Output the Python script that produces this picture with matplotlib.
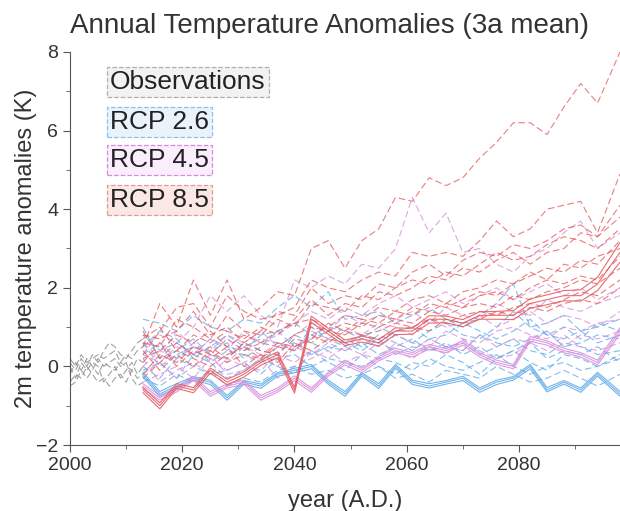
import matplotlib
matplotlib.use("Agg")
import matplotlib.pyplot as plt
from matplotlib.ticker import MultipleLocator

plt.rcParams['font.family'] = ['Liberation Sans', 'DejaVu Sans']

# observations 2000-2013 (annual)
obs_years = list(range(2000, 2014))
obs_runs = [
    [0.1, -0.1, 0.2, 0.0, 0.3, 0.1, 0.4, 0.6, 0.5, 0.3, 0.2, 0.4, 0.6, 0.7],
    [-0.2, 0.1, -0.1, 0.2, 0.0, -0.2, 0.1, 0.0, -0.1, 0.1, 0.0, -0.1, 0.2, 0.1],
    [-0.4, -0.2, -0.3, 0.0, -0.2, -0.4, -0.3, -0.5, -0.3, -0.2, -0.4, -0.1, -0.3, -0.2],
    [0.0, -0.3, 0.1, -0.1, 0.1, 0.0, -0.4, -0.2, 0.0, -0.3, -0.1, 0.1, -0.2, 0.0],
    [-0.5, -0.4, -0.1, -0.3, -0.1, 0.2, 0.0, 0.1, 0.2, 0.0, 0.1, -0.3, -0.5, -0.4],
    [0.2, 0.0, 0.3, 0.1, 0.2, 0.3, 0.2, 0.3, 0.4, 0.1, 0.3, 0.2, 0.4, 0.5],
]

# scenario years (3a means)
years = [2013, 2016, 2019, 2022, 2025, 2028, 2031, 2034, 2037, 2040,
         2043, 2046, 2049, 2052, 2055, 2058, 2061, 2064, 2067, 2070,
         2073, 2076, 2079, 2082, 2085, 2088, 2091, 2094, 2098]

rcp26_dashed = [
    [1.2, 1.1, 0.9, 1.3, 1.0, 0.9, 1.2, 1.1, 1.5, 1.8, 1.5, 1.9, 1.2, 1.3, 1.4, 1.1, 1.3, 1.5, 1.2, 1.0, 1.3, 1.6, 2.1, 1.0, 1.1, 1.3, 0.9, 1.0, 1.2],
    [0.8, 0.4, 0.6, 0.3, 0.7, 0.5, 0.4, 0.8, 0.9, 1.1, 0.8, 1.0, 0.9, 0.7, 1.0, 0.8, 0.6, 0.9, 1.1, 0.8, 0.7, 1.0, 1.4, 1.0, 0.8, 0.7, 0.9, 0.6, 0.8],
    [0.3, 0.6, 0.2, 0.5, 0.1, 0.4, 0.3, 0.1, 0.5, 0.6, 0.3, 0.5, 0.4, 0.6, 0.3, 0.5, 0.7, 0.4, 0.5, 0.6, 0.3, 0.5, 0.7, 0.4, 0.3, 0.6, 0.5, 0.3, 0.4],
    [0.0, -0.3, 0.2, 0.0, -0.2, -0.1, 0.1, -0.2, 0.2, 0.3, 0.0, 0.2, 0.1, 0.0, 0.2, 0.1, -0.1, 0.2, 0.0, -0.1, 0.1, 0.3, 0.0, -0.2, 0.0, 0.1, -0.1, 0.0, 0.2],
    [-0.3, -0.5, -0.2, -0.4, -0.1, -0.5, -0.3, -0.4, -0.1, 0.0, -0.2, -0.1, -0.3, -0.2, 0.0, -0.3, -0.2, -0.4, -0.1, -0.2, -0.3, 0.0, -0.2, -0.4, -0.3, -0.1, -0.3, -0.5, -0.2],
    [1.0, 0.2, 0.4, 0.7, 0.3, 0.2, 0.6, 0.4, 0.3, 0.8, 0.6, 0.4, 0.7, 0.5, 0.8, 0.6, 0.4, 0.7, 0.5, 0.4, 0.8, 0.6, 0.5, 0.7, 0.9, 0.5, 0.6, 0.8, 0.7],
    [0.5, 0.9, 0.7, 0.2, 0.5, 0.8, 0.5, 0.7, 0.6, 0.4, 1.0, 0.7, 0.5, 0.8, 0.6, 0.9, 1.0, 0.7, 0.8, 1.1, 0.9, 0.7, 0.9, 1.2, 0.8, 1.0, 0.7, 1.1, 0.9],
    [-0.1, 0.1, -0.3, 0.3, 0.1, -0.3, -0.1, 0.2, 0.0, -0.2, 0.4, 0.1, -0.1, 0.3, 0.0, -0.2, 0.1, 0.0, 0.3, 0.1, -0.2, 0.2, 0.4, 0.1, -0.1, 0.3, 0.2, 0.0, 0.3],
    [0.6, 0.0, 0.3, 0.5, 0.4, 0.6, 0.2, 0.5, 0.9, 0.5, 0.7, 0.9, 0.6, 0.4, 0.7, 0.3, 0.5, 0.4, 0.6, 0.3, 0.5, 0.2, 0.4, 0.6, 0.2, 0.4, 0.3, 0.5, 0.1],
]
rcp26_solid = [
    [-0.2, -0.7, -0.5, -0.3, -0.4, -0.8, -0.4, -0.5, -0.2, -0.1, 0.0, -0.4, -0.7, -0.2, -0.5, 0.0, -0.4, -0.5, -0.4, -0.3, -0.6, -0.4, -0.3, 0.0, -0.6, -0.4, -0.6, -0.2, -0.7],
    [-0.15, -0.64, -0.44, -0.26, -0.35, -0.74, -0.36, -0.45, -0.16, -0.05, 0.05, -0.35, -0.64, -0.16, -0.44, 0.05, -0.35, -0.44, -0.36, -0.25, -0.55, -0.35, -0.26, 0.05, -0.54, -0.36, -0.55, -0.15, -0.64],
    [-0.26, -0.76, -0.55, -0.35, -0.46, -0.86, -0.45, -0.56, -0.25, -0.16, -0.06, -0.45, -0.76, -0.25, -0.56, -0.05, -0.46, -0.55, -0.45, -0.36, -0.66, -0.46, -0.35, -0.06, -0.65, -0.45, -0.66, -0.25, -0.76],
]

rcp45_dashed = [
    [0.5, 0.8, 0.6, 1.0, 1.8, 1.4, 1.8, 1.3, 1.0, 2.2, 2.0, 2.3, 2.1, 2.6, 2.5, 3.0, 4.3, 3.4, 3.9, 2.9, 3.0, 2.6, 2.4, 2.8, 3.0, 3.4, 3.7, 3.0, 3.4],
    [0.3, 0.1, 0.5, 0.3, 0.7, 0.4, 0.9, 0.6, 0.8, 1.1, 1.4, 1.2, 1.5, 1.3, 1.6, 1.8, 1.5, 1.7, 1.9, 1.6, 1.8, 2.0, 1.7, 1.9, 2.1, 1.8, 2.0, 1.7, 2.0],
    [0.0, 0.4, 0.2, 0.6, 0.3, 0.1, 0.5, 0.3, 0.6, 0.4, 0.9, 0.7, 1.0, 0.8, 1.1, 1.0, 0.8, 1.2, 1.0, 1.1, 1.3, 1.0, 1.2, 1.4, 1.1, 1.3, 1.2, 1.0, 1.4],
    [-0.4, -0.2, 0.0, -0.3, 0.2, -0.1, 0.1, 0.3, 0.0, 0.5, 0.3, 0.6, 0.4, 0.7, 0.5, 0.8, 0.6, 0.5, 0.9, 0.7, 0.6, 0.9, 1.0, 0.8, 0.7, 1.0, 0.9, 1.1, 1.2],
    [0.2, -0.4, -0.1, 0.1, -0.2, 0.2, 0.0, -0.1, 0.3, 0.1, 0.4, 0.2, 0.5, 0.3, 0.2, 0.6, 0.4, 0.7, 0.5, 0.4, 0.8, 0.5, 0.7, 0.6, 0.9, 0.5, 0.8, 0.7, 0.9],
    [0.6, 0.2, 0.9, 0.5, 0.4, 0.8, 0.6, 0.9, 0.5, 0.8, 1.1, 0.9, 1.3, 1.1, 1.3, 1.2, 1.4, 1.1, 1.5, 1.3, 1.2, 1.6, 1.4, 1.3, 1.7, 1.5, 1.4, 1.6, 1.8],
    [-0.2, 0.1, -0.3, 0.0, 0.3, -0.2, -0.1, 0.2, -0.3, 0.0, 0.2, 0.4, 0.1, 0.3, 0.6, 0.4, 0.2, 0.5, 0.3, 0.7, 0.4, 0.2, 0.3, 0.6, 0.4, 0.8, 0.5, 0.4, 0.6],
]
rcp45_solid = [
    [-0.5, -0.8, -0.6, -0.3, -0.7, -0.5, -0.4, -0.8, -0.6, -0.3, -0.6, -0.2, 0.1, -0.1, 0.2, 0.4, 0.3, 0.5, 0.4, 0.6, 0.3, 0.1, 0.0, 0.7, 0.6, 0.4, 0.3, 0.1, 0.9],
    [-0.44, -0.74, -0.55, -0.25, -0.64, -0.45, -0.35, -0.74, -0.55, -0.24, -0.55, -0.15, 0.16, -0.05, 0.25, 0.46, 0.35, 0.56, 0.45, 0.66, 0.35, 0.16, 0.05, 0.76, 0.65, 0.46, 0.35, 0.16, 0.98],
    [-0.56, -0.86, -0.65, -0.36, -0.76, -0.55, -0.46, -0.86, -0.65, -0.36, -0.66, -0.25, 0.04, -0.16, 0.14, 0.35, 0.24, 0.44, 0.35, 0.54, 0.24, 0.05, -0.06, 0.64, 0.54, 0.35, 0.24, 0.04, 0.82],
]

rcp85_dashed = [
    [0.5, 1.6, 1.0, 2.2, 1.3, 2.2, 1.2, 1.5, 1.9, 1.8, 3.0, 3.2, 2.5, 3.2, 3.5, 4.3, 4.2, 4.8, 4.6, 4.8, 5.3, 5.7, 6.2, 6.2, 5.9, 6.6, 7.2, 6.7, 8.0],
    [0.3, 0.9, 1.5, 1.6, 1.0, 1.8, 1.4, 1.2, 1.3, 1.5, 2.2, 2.0, 1.9, 2.2, 2.4, 2.3, 2.9, 2.8, 2.9, 2.8, 3.2, 3.7, 3.3, 3.5, 4.0, 4.1, 4.2, 3.4, 4.9],
    [0.6, 0.5, 1.2, 1.0, 0.7, 1.3, 0.9, 0.8, 1.2, 1.0, 1.6, 1.5, 1.4, 1.8, 1.7, 2.0, 2.2, 2.1, 2.4, 2.3, 2.6, 2.9, 2.7, 2.8, 3.1, 3.3, 3.2, 3.0, 3.5],
    [0.2, 0.4, 0.8, 0.6, 0.9, 0.5, 0.8, 0.6, 0.9, 1.1, 1.2, 1.0, 1.3, 1.2, 1.5, 1.4, 1.7, 1.8, 1.6, 1.9, 2.0, 2.2, 2.1, 2.3, 2.5, 2.4, 2.7, 2.6, 3.2],
    [-0.2, 0.3, 0.1, 0.5, 0.3, 0.7, 0.4, 0.6, 0.5, 0.8, 1.0, 0.9, 1.1, 1.0, 1.3, 1.2, 1.5, 1.4, 1.6, 1.5, 1.8, 1.9, 1.7, 2.0, 2.2, 2.1, 2.3, 2.2, 2.8],
    [0.9, 0.2, 0.6, 0.3, 0.5, 0.2, 0.6, 0.4, 0.3, 0.7, 0.6, 0.9, 0.8, 1.1, 1.0, 1.2, 1.1, 1.4, 1.3, 1.5, 1.6, 1.5, 1.8, 1.7, 1.9, 2.0, 2.2, 2.1, 2.5],
    [0.4, -0.1, 0.3, 0.0, 0.4, 0.1, 0.3, 0.2, 0.5, 0.4, 0.8, 0.6, 0.9, 0.8, 0.9, 1.1, 1.0, 1.2, 1.1, 1.3, 1.4, 1.3, 1.5, 1.6, 1.5, 1.7, 1.9, 1.8, 2.2],
    [0.1, 0.6, 0.0, 0.4, 0.2, 0.5, 0.0, 0.3, 0.1, 0.6, 0.4, 0.7, 0.6, 0.8, 0.7, 0.9, 1.0, 0.9, 1.2, 1.1, 1.2, 1.4, 1.3, 1.5, 1.4, 1.6, 1.7, 1.6, 2.0],
    [0.7, 1.0, 0.4, 0.8, 0.6, 0.9, 0.7, 1.0, 0.8, 1.2, 1.7, 1.3, 1.6, 1.5, 1.9, 1.8, 2.0, 2.3, 2.2, 2.5, 2.4, 2.7, 2.9, 2.6, 2.9, 3.0, 3.4, 3.3, 3.8],
    [-0.3, 0.1, 0.4, 0.2, 0.0, 0.3, 0.5, 0.2, 0.6, 0.5, 0.7, 1.1, 0.9, 1.2, 1.1, 1.4, 1.3, 1.6, 1.5, 1.7, 1.9, 1.8, 2.1, 2.4, 2.2, 2.6, 2.5, 2.8, 3.0],
    [0.8, 0.7, 0.9, 1.4, 0.8, 1.0, 0.6, 0.9, 1.4, 1.3, 2.0, 1.6, 1.8, 1.7, 2.1, 2.0, 2.4, 2.6, 2.3, 2.7, 2.9, 2.8, 3.1, 3.0, 3.2, 3.5, 3.6, 3.3, 4.1],
]
rcp85_solid = [
    [-0.6, -1.0, -0.5, -0.6, -0.1, -0.4, -0.2, 0.1, 0.3, -0.6, 1.2, 0.9, 0.6, 0.7, 0.6, 0.9, 0.9, 1.2, 1.2, 1.1, 1.3, 1.3, 1.3, 1.6, 1.7, 1.8, 1.8, 2.1, 2.9],
    [-0.54, -0.93, -0.44, -0.54, -0.04, -0.33, -0.14, 0.16, 0.37, -0.53, 1.28, 0.97, 0.67, 0.77, 0.68, 0.98, 0.97, 1.29, 1.28, 1.19, 1.39, 1.4, 1.42, 1.72, 1.82, 1.93, 1.95, 2.27, 3.15],
    [-0.67, -1.08, -0.56, -0.67, -0.17, -0.47, -0.27, 0.03, 0.22, -0.68, 1.12, 0.82, 0.53, 0.62, 0.52, 0.81, 0.82, 1.1, 1.11, 1.01, 1.2, 1.2, 1.19, 1.48, 1.57, 1.67, 1.66, 1.93, 2.65],
]

labels = ['Observations', 'RCP 2.6', 'RCP 4.5', 'RCP 8.5']
line_colors = ['#8a8a8a', '#62acea', '#d890de', '#e65c60']
box_faces = ['#f2f2f2', '#eaf2fc', '#fbeefc', '#fbe8e4']
box_edges = ['#b0b0b0', '#8cc0ea', '#d68ade', '#e09a9a']

fig = plt.figure(figsize=(6.2, 5.11), dpi=100)
ax = fig.add_axes([70 / 620, 66 / 511, 550 / 620, 393 / 511])

for run in obs_runs:
    ax.plot(obs_years, run, color=line_colors[0], lw=0.8, dashes=(6, 3), alpha=0.8)

groups = [(rcp26_dashed, rcp26_solid, line_colors[1]),
          (rcp45_dashed, rcp45_solid, line_colors[2]),
          (rcp85_dashed, rcp85_solid, line_colors[3])]
for dashed, solid, c in groups:
    for run in dashed:
        ax.plot(years, run, color=c, lw=0.8, dashes=(6, 3), alpha=0.8)
for dashed, solid, c in groups:
    for run in solid:
        ax.plot(years, run, color=c, lw=0.8, alpha=0.9)

ax.set_xlim(2000, 2098)
ax.set_ylim(-2, 8)
ax.xaxis.set_major_locator(MultipleLocator(20))
ax.xaxis.set_minor_locator(MultipleLocator(10))
ax.yaxis.set_major_locator(MultipleLocator(2))
ax.yaxis.set_minor_locator(MultipleLocator(1))
for s in ['top', 'right']:
    ax.spines[s].set_visible(False)
for s in ['left', 'bottom']:
    ax.spines[s].set_color('#555555')
ax.tick_params(which='both', colors='#555555', labelcolor='#333333', labelsize=14, direction='out')
ax.tick_params(which='major', length=5)
ax.tick_params(which='minor', length=3)

fig.text(330 / 620, 1 - 33 / 511, 'Annual Temperature Anomalies (3a mean)', fontsize=20,
         color='#333333', ha='center', va='baseline')
ax.set_xlabel('year (A.D.)', fontsize=17, color='#333333', labelpad=12)
ax.set_ylabel('2m temperature anomalies (K)', fontsize=17, color='#333333', labelpad=-1)

ypos = [0.924, 0.822, 0.725, 0.623]
for lab, yy, fc, ec in zip(labels, ypos, box_faces, box_edges):
    ax.text(0.073, yy, lab, transform=ax.transAxes, fontsize=19, color='#222222',
            va='center', ha='left',
            bbox=dict(boxstyle='square,pad=0.12', facecolor=fc, edgecolor=ec,
                      linestyle='--', linewidth=0.9))

fig.savefig('out.png', dpi=100)
